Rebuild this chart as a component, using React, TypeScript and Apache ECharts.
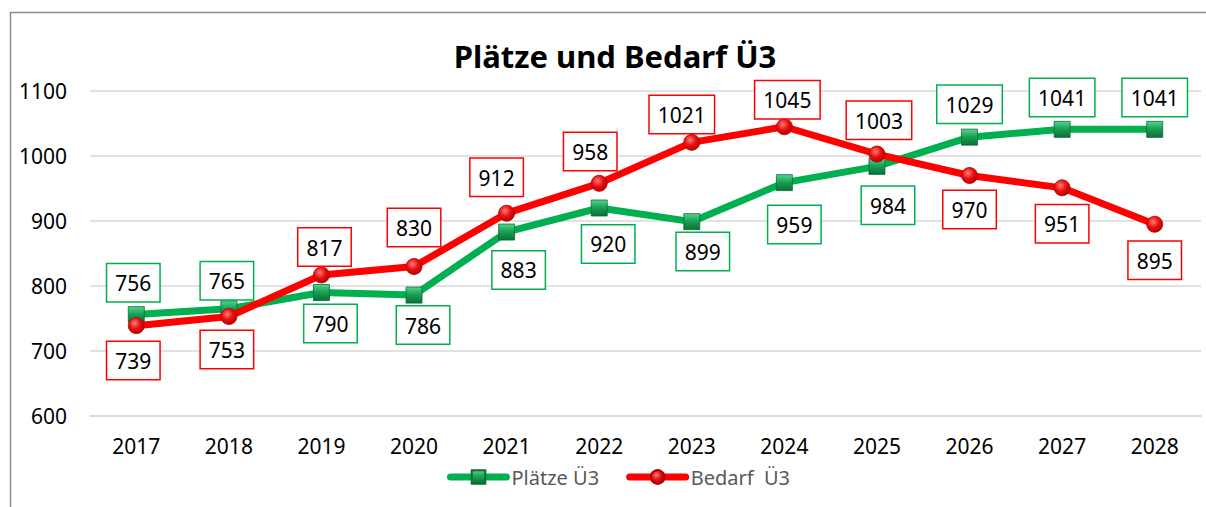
import React, { useEffect, useRef } from "react";
import * as echarts from "echarts";

const years = ["2017", "2018", "2019", "2020", "2021", "2022", "2023", "2024", "2025", "2026", "2027", "2028"];
const plaetze = [756, 765, 790, 786, 883, 920, 899, 959, 984, 1029, 1041, 1041];
const bedarf = [739, 753, 817, 830, 912, 958, 1021, 1045, 1003, 970, 951, 895];
const yMin = 600;
const yMax = 1100;
const yStep = 100;

const plaetzeLabelSide = ["top", "top", "bottom", "bottom", "bottom", "bottom", "bottom", "bottom", "bottom", "top", "top", "top"];
const plaetzeLabelGap = [13, 9, 12, 11, 19, 17, 11, 23, 20, 14, 13, 13];
const plaetzeLabelDx = [-3, -2, 9, 9, 12, 9, 11, 10, 11, 0, 0, 0];
const bedarfLabelSide = ["bottom", "bottom", "top", "top", "top", "top", "top", "top", "top", "bottom", "bottom", "bottom"];
const bedarfLabelGap = [16, 14, 9, 20, 17, 13, 9, 7, 15, 15, 17, 17];
const bedarfLabelDx = [-3, -2, 3, 0, -10, -9, -10, 3, 2, 0, 0, 0];

const GREEN = "#00B050";
const RED = "#FF0000";
const FONT = "'Noto Sans', 'Open Sans', sans-serif";
const SYM = 16;

function labelFor(color: string) {
  return {
    show: true,
    color: "#000",
    fontSize: 21,
    fontFamily: FONT,
    lineHeight: 24,
    backgroundColor: "#fff",
    borderColor: color,
    borderWidth: 1.5,
    padding: [7, 8, 6, 8],
  };
}

export default function App() {
  const ref = useRef<HTMLDivElement>(null);
  useEffect(() => {
    if (!ref.current) return;
    const chart = echarts.init(ref.current, null, { renderer: "svg" });
    const greenFill = new echarts.graphic.LinearGradient(0, 0, 0, 1, [
      { offset: 0, color: "#52d68f" },
      { offset: 0.45, color: "#1aa356" },
      { offset: 1, color: "#0b6e37" },
    ]);
    const redFill = new echarts.graphic.RadialGradient(0.4, 0.35, 0.7, [
      { offset: 0, color: "#ff7a7a" },
      { offset: 0.5, color: "#e81010" },
      { offset: 1, color: "#b00000" },
    ]);
    const plaetzeData = plaetze.map((v, i) => ({
      value: v,
      label: {
        position: plaetzeLabelSide[i],
        distance: Math.max(0, plaetzeLabelGap[i] - SYM / 2),
        offset: [plaetzeLabelDx[i], 0],
      },
    }));
    const bedarfData = bedarf.map((v, i) => ({
      value: v,
      label: {
        position: bedarfLabelSide[i],
        distance: Math.max(0, bedarfLabelGap[i] - SYM / 2),
        offset: [bedarfLabelDx[i], 0],
      },
    }));
    chart.setOption({
      animation: false,
      backgroundColor: "#fff",
      textStyle: { fontFamily: FONT },
      grid: { left: 90, right: 5, top: 91, bottom: 91, containLabel: false },
      legend: {
        left: 442,
        top: 462,
        itemWidth: 56,
        itemHeight: 17,
        itemGap: 27,
        lineStyle: { width: 7, cap: "round" },
        textStyle: { color: "#595959", fontSize: 20, fontFamily: FONT },
        data: ["Plätze Ü3", "Bedarf  Ü3"],
      },
      graphic: [
        {
          type: "text",
          x: 615,
          y: 56,
          style: {
            text: "Plätze und Bedarf Ü3",
            fontSize: 31,
            fontWeight: "bold",
            fontFamily: FONT,
            fill: "#000",
            textAlign: "center",
            textVerticalAlign: "middle",
          },
        },
        { type: "line", shape: { x1: 10.5, y1: 12, x2: 10.5, y2: 507 }, style: { stroke: "#8c8c8c", lineWidth: 1.5 } },
        { type: "line", shape: { x1: 10, y1: 12.5, x2: 1206, y2: 12.5 }, style: { stroke: "#8c8c8c", lineWidth: 1.5 } },
      ],
      xAxis: {
        type: "category",
        data: years,
        boundaryGap: true,
        axisLine: { show: true, lineStyle: { color: "#d9d9d9", width: 1.5 } },
        axisTick: { show: false },
        axisLabel: { color: "#000", fontSize: 21, fontFamily: FONT, margin: 19 },
      },
      yAxis: {
        type: "value",
        min: yMin,
        max: yMax,
        interval: yStep,
        axisLine: { show: false },
        axisTick: { show: false },
        splitLine: { lineStyle: { color: "#d9d9d9", width: 1.5 } },
        axisLabel: { color: "#000", fontSize: 21, fontFamily: FONT, margin: 23, formatter: (v: number) => String(v) },
      },
      series: [
        {
          name: "Plätze Ü3",
          type: "line",
          data: plaetzeData,
          symbol: "rect",
          symbolSize: SYM,
          lineStyle: { color: GREEN, width: 7 },
          itemStyle: { color: greenFill, borderColor: "#0b6b35", borderWidth: 0.8 },
          label: labelFor(GREEN),
          z: 2,
        },
        {
          name: "Bedarf  Ü3",
          type: "line",
          data: bedarfData,
          symbol: "circle",
          symbolSize: SYM,
          lineStyle: { color: RED, width: 7 },
          itemStyle: { color: redFill, borderColor: "#b00000", borderWidth: 0.8 },
          label: labelFor(RED),
          z: 3,
        },
      ],
    });
    return () => chart.dispose();
  }, []);
  return <div ref={ref} style={{ position: "absolute", left: 0, top: 0, width: 1206, height: 507 }} />;
}
